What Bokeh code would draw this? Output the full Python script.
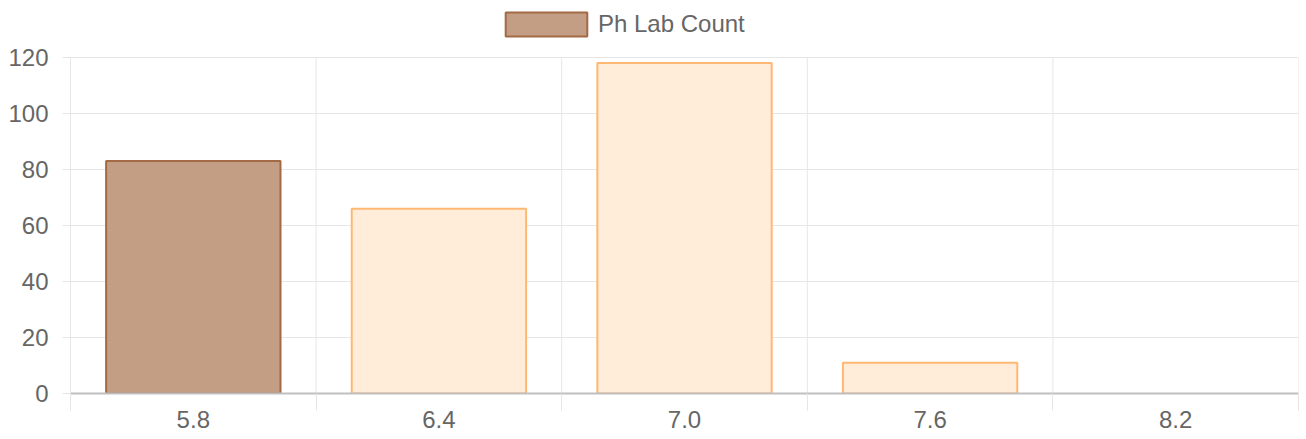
from bokeh.plotting import figure
from bokeh.models import ColumnDataSource, FixedTicker, Legend, LegendItem, Range1d
from bokeh.embed import file_html
from bokeh.resources import INLINE

categories = ["5.8", "6.4", "7.0", "7.6", "8.2"]
counts = [83, 66, 118, 11, 0]
fill_colors = ["#c49d85", "#ffecd9", "#ffecd9", "#ffecd9", "#ffecd9"]
line_colors = ["#a26a45", "#ffb873", "#ffb873", "#ffb873", "#ffb873"]
series_name = "Ph Lab Count"
y_ticks = [0, 20, 40, 60, 80, 100, 120]
y_max = 120

FONT = "Liberation Sans"
TXT = "#666666"
FS = "24px"
GRID = "#e6e6e6"

# layout (pixels)
FRAME_BOTTOM = 393
Y_MAX_PX = 57
view_top = y_max * FRAME_BOTTOM / (FRAME_BOTTOM - Y_MAX_PX)

n = len(categories)
xs = [i + 0.5 for i in range(n)]
bounds = list(range(n + 1))
line_alpha = [1 if c > 0 else 0 for c in counts]
src = ColumnDataSource(dict(x=xs, top=counts, fill=fill_colors, line=line_colors, la=line_alpha))

p = figure(width=1299, height=438, output_backend="svg", toolbar_location=None,
           x_range=Range1d(0, n), y_range=Range1d(0, view_top),
           min_border_left=70, min_border_top=0, min_border_right=1, min_border_bottom=45)
p.outline_line_color = None

# vertical category-boundary grid lines, limited to the value range
p.segment(x0=bounds, y0=[0] * len(bounds), x1=bounds, y1=[y_max] * len(bounds),
          line_color=GRID, line_width=1)

r = p.vbar(x="x", top="top", bottom=0, width=0.71, source=src,
           fill_color="fill", line_color="line", line_alpha="la", line_width=2)

# x axis
p.xaxis.ticker = FixedTicker(ticks=xs, minor_ticks=bounds)
p.xaxis.major_label_overrides = {x: c for x, c in zip(xs, categories)}
p.xaxis.major_tick_line_color = None
p.xaxis.major_tick_out = 0
p.xaxis.major_tick_in = 0
p.xaxis.minor_tick_line_color = GRID
p.xaxis.minor_tick_out = 17
p.xaxis.minor_tick_in = 0
p.xaxis.axis_line_color = "#bfbfbf"
p.xaxis.axis_line_width = 2
p.xaxis.major_label_standoff = 0
p.xaxis.major_label_text_font = FONT
p.xaxis.major_label_text_font_size = FS
p.xaxis.major_label_text_color = TXT

# y axis
p.yaxis.ticker = FixedTicker(ticks=y_ticks, minor_ticks=[])
p.yaxis.bounds = (0, y_max)
p.yaxis.major_tick_line_color = GRID
p.yaxis.major_tick_out = 8
p.yaxis.major_tick_in = 0
p.yaxis.axis_line_color = GRID
p.yaxis.major_label_standoff = 14
p.yaxis.major_label_text_font = FONT
p.yaxis.major_label_text_font_size = FS
p.yaxis.major_label_text_color = TXT

# grids
p.xgrid.grid_line_color = None
p.ygrid.ticker = FixedTicker(ticks=y_ticks)
p.ygrid.grid_line_color = GRID

legend = Legend(items=[LegendItem(label=series_name, renderers=[r], index=0)],
                location=(425, 354), orientation="horizontal",
                glyph_width=102, glyph_height=30, label_height=30,
                label_standoff=1, padding=0, margin=0, spacing=0,
                border_line_color=None, background_fill_alpha=0,
                label_text_font=FONT, label_text_font_size=FS,
                label_text_color=TXT)
p.add_layout(legend, "center")

open("out.html", "w").write(file_html(p, INLINE))
